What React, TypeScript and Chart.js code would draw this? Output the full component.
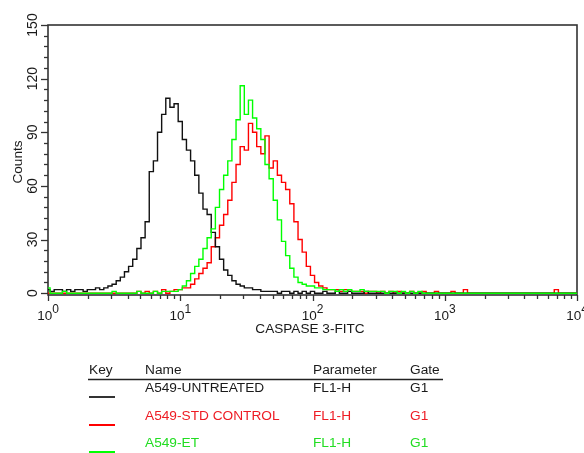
import React, { useEffect, useRef } from 'react';
import { Chart, registerables } from 'chart.js';

Chart.register(...registerables);

// ---- data (counts per channel, 32 channels per decade, channel 0 = 10^0) ----
const CHANNELS_PER_DECADE = 32;

const untreated = [
  2, 1, 2, 2, 1, 2, 1, 2, 2, 1, 2, 2, 3, 2, 3,
  4, 5, 7, 9, 12, 15, 19, 25, 31, 40,
  68, 74, 90, 100, 109, 104, 106, 96, 86, 80,
  74, 66, 56, 47, 44, 34, 26, 19, 13, 10,
  7, 5, 4, 3, 3, 2, 2, 1, 1, 1,
  1, 0, 1, 1, 0, 1, 0, 1, 0, 1,
  0, 0, 1, 0, 0, 1, 0, 0, 1, 0, 0, 0, 1, 0, 0, 0,
  0, 0, 0, 0, 0, 0, 0, 0, 0, 0, 0, 0, 0, 0, 0, 0,
  0, 0, 0, 0, 0, 0, 0, 0, 0, 0, 0, 0, 0, 0, 0, 0,
  0, 0, 0, 0, 0, 0, 0, 0, 0, 0, 0, 0, 0, 0, 0, 0, 0,
];

const stdControl = [
  0, 0, 0, 0, 0, 0, 0, 0, 0, 0, 0, 0, 0, 0, 0, 0,
  0, 0, 0, 0, 0, 0, 1, 0, 1, 0, 1, 0, 2, 0, 1, 2, 2, 3,
  3, 5, 8, 11, 14, 17, 26, 31, 38, 44,
  52, 62, 72, 82, 80, 95, 90, 82, 78, 88,
  70, 74, 66, 62, 58, 50, 40, 30, 23, 15,
  10, 6, 4, 3, 2, 2, 2, 1, 2, 1,
  1, 1, 1, 0, 1, 1, 0, 1, 0, 1,
  0, 1, 0, 0, 1, 0, 0, 1, 0, 0,
  1, 0, 0, 0, 1, 0, 0, 2, 0, 0,
  0, 0, 0, 0, 0, 0, 0, 0, 0, 0,
  0, 0, 0, 0, 0, 0, 0, 0, 0, 2,
  0, 0, 0, 0, 0, 0, 0, 0, 0,
];

const et = [
  3, 0, 0, 0, 1, 0, 0, 0, 0, 0, 0, 0, 0, 0, 0, 0,
  1, 0, 0, 0, 0, 0, 1, 0, 0, 0, 1, 0, 1, 1, 1,
  1, 2, 4, 7, 11, 15, 19, 25, 31, 36,
  48, 58, 66, 74, 86, 97, 116, 100, 108, 98,
  92, 86, 72, 64, 52, 41, 29, 21, 14, 9,
  6, 5, 4, 4, 3, 3, 2, 2, 2, 1,
  2, 1, 2, 1, 1, 2, 1, 1, 1, 1,
  1, 0, 1, 1, 0, 1, 0, 1, 0, 1,
  0, 0, 0, 0, 0, 0, 0, 0, 0, 0,
  0, 0, 0, 0, 0, 0, 0, 0, 0, 0,
  0, 0, 0, 0, 0, 0, 0, 0, 0, 0,
  0, 0, 0, 0, 0, 0, 0, 0, 0, 0,
  0, 0, 0, 0, 0, 0, 0, 0,
];

const xMajorTicks = [1, 10, 100, 1000, 10000];
const xTickBase = '10';
const xTickExponents = ['0', '1', '2', '3', '4'];
const xMinorMultipliers = [2, 3, 4, 5, 6, 7, 8, 9];
const yMajorTicks = [0, 30, 60, 90, 120, 150];
const yMinorStep = 6;
const xTitle = 'CASPASE 3-FITC';
const yTitle = 'Counts';

const legendHeaders = ['Key', 'Name', 'Parameter', 'Gate'];
const seriesNames = ['A549-UNTREATED', 'A549-STD CONTROL', 'A549-ET'];
const seriesParameters = ['FL1-H', 'FL1-H', 'FL1-H'];
const seriesGates = ['G1', 'G1', 'G1'];
const seriesLineColors = ['#111111', '#ff0000', '#00ff00'];
const seriesTextColors = ['#1a1a1a', '#ee1c24', '#22dd22'];

const FONT = 'Arial, "Liberation Sans", Helvetica, sans-serif';
const AXIS_COLOR = '#333333';
const TEXT_COLOR = '#1a1a1a';

function toPoints(values: number[]) {
  return values.map((y, i) => ({ x: Math.pow(10, i / CHANNELS_PER_DECADE), y }));
}

function drawText(ctx: CanvasRenderingContext2D, text: string, x: number, y: number, rot = 0) {
  ctx.save();
  ctx.translate(x, y);
  if (rot) ctx.rotate(rot);
  ctx.fillText(text, 0, 0);
  ctx.restore();
}

const framePlugin = {
  id: 'framePlugin',
  beforeDatasetsDraw(chart: any) {
    const { ctx, chartArea } = chart;
    const xs = chart.scales.x;
    const ys = chart.scales.y;
    ctx.save();
    ctx.strokeStyle = AXIS_COLOR;
    ctx.lineWidth = 1.6;
    ctx.strokeRect(chartArea.left, chartArea.top, chartArea.right - chartArea.left, chartArea.bottom - chartArea.top);
    // y ticks
    ctx.lineWidth = 1.3;
    for (let v = yMajorTicks[0]; v <= yMajorTicks[yMajorTicks.length - 1]; v += yMinorStep) {
      const py = Math.round(ys.getPixelForValue(v)) + 0.5;
      const len = yMajorTicks.includes(v) ? 7 : 4;
      ctx.beginPath();
      ctx.moveTo(chartArea.left - len, py);
      ctx.lineTo(chartArea.left, py);
      ctx.stroke();
    }
    // x ticks
    xMajorTicks.forEach((d, di) => {
      const px = Math.round(xs.getPixelForValue(d)) + 0.5;
      ctx.beginPath();
      ctx.moveTo(px, chartArea.bottom);
      ctx.lineTo(px, chartArea.bottom + 6);
      ctx.stroke();
      if (di < xMajorTicks.length - 1) {
        xMinorMultipliers.forEach((m) => {
          const mx = Math.round(xs.getPixelForValue(d * m)) + 0.5;
          ctx.beginPath();
          ctx.moveTo(mx, chartArea.bottom);
          ctx.lineTo(mx, chartArea.bottom + 4);
          ctx.stroke();
        });
      }
    });
    ctx.restore();
  },
  afterDraw(chart: any) {
    const { ctx, chartArea } = chart;
    const xs = chart.scales.x;
    const ys = chart.scales.y;
    ctx.save();
    ctx.fillStyle = TEXT_COLOR;
    ctx.textBaseline = 'middle';
    ctx.textAlign = 'center';
    // y tick labels (rotated)
    ctx.font = `14px ${FONT}`;
    yMajorTicks.forEach((v) => {
      const py = ys.getPixelForValue(v);
      drawText(ctx, String(v), 33, py, -Math.PI / 2);
    });
    // y title
    ctx.font = `13.6px ${FONT}`;
    drawText(ctx, yTitle, 18, (chartArea.top + chartArea.bottom) / 2 + 2, -Math.PI / 2);
    // x tick labels with superscripts
    ctx.textBaseline = 'alphabetic';
    ctx.textAlign = 'left';
    xMajorTicks.forEach((d, i) => {
      const px = xs.getPixelForValue(d);
      ctx.font = `13.5px ${FONT}`;
      const wb = ctx.measureText(xTickBase).width;
      ctx.font = `12px ${FONT}`;
      const we = ctx.measureText(xTickExponents[i]).width;
      const start = px - (wb + we) / 2;
      ctx.font = `13.5px ${FONT}`;
      drawText(ctx, xTickBase, start, 320);
      ctx.font = `12px ${FONT}`;
      drawText(ctx, xTickExponents[i], start + wb, 313);
    });
    // x title
    ctx.font = `13.6px ${FONT}`;
    ctx.textAlign = 'center';
    ctx.textBaseline = 'middle';
    drawText(ctx, xTitle, 310, 329);

    // legend table
    const colX = [89, 145, 313, 410];
    ctx.textAlign = 'left';
    ctx.font = `13.7px ${FONT}`;
    ctx.fillStyle = TEXT_COLOR;
    legendHeaders.forEach((h, i) => drawText(ctx, h, colX[i], 370));
    ctx.strokeStyle = '#222222';
    ctx.lineWidth = 1.6;
    ctx.beginPath();
    ctx.moveTo(88, 379.5);
    ctx.lineTo(443, 379.5);
    ctx.stroke();
    const rowY = [388, 416, 443];
    seriesNames.forEach((name, i) => {
      ctx.fillStyle = seriesTextColors[i];
      drawText(ctx, name, colX[1], rowY[i]);
      drawText(ctx, seriesParameters[i], colX[2], rowY[i]);
      drawText(ctx, seriesGates[i], colX[3], rowY[i]);
      ctx.strokeStyle = i === 0 ? '#333333' : seriesLineColors[i];
      ctx.lineWidth = 2;
      ctx.beginPath();
      ctx.moveTo(89, rowY[i] + 9);
      ctx.lineTo(115, rowY[i] + 9);
      ctx.stroke();
    });
    ctx.restore();
  },
};

export default function App() {
  const ref = useRef<HTMLCanvasElement | null>(null);
  useEffect(() => {
    if (!ref.current) return;
    const chart = new Chart(ref.current, {
      type: 'line',
      data: {
        datasets: [
          { label: seriesNames[2], data: toPoints(et), borderColor: seriesLineColors[2], order: 0 },
          { label: seriesNames[0], data: toPoints(untreated), borderColor: seriesLineColors[0], order: 1 },
          { label: seriesNames[1], data: toPoints(stdControl), borderColor: seriesLineColors[1], order: 2 },
        ].map((d) => ({ ...d, borderWidth: 1.4, pointRadius: 0, stepped: 'middle' as const, fill: false, tension: 0 })),
      },
      options: {
        animation: false,
        responsive: false,
        devicePixelRatio: 1,
        layout: { padding: { left: 48, top: 25, right: 7, bottom: 158 } },
        scales: {
          x: { type: 'logarithmic', min: 1, max: 10000, display: false },
          y: { type: 'linear', min: -1, max: 150, display: false },
        },
        plugins: { legend: { display: false }, tooltip: { enabled: false } },
      },
      plugins: [framePlugin],
    });
    return () => chart.destroy();
  }, []);
  return (
    <div style={{ position: 'absolute', left: 0, top: 0, width: 584, height: 453, background: '#ffffff' }}>
      <canvas ref={ref} width={584} height={453} style={{ display: 'block' }} />
    </div>
  );
}
